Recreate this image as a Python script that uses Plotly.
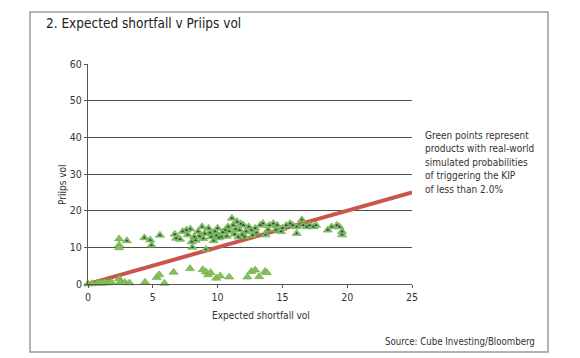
import plotly.graph_objects as go

# Upper cluster (points with dark core)
upper_x = [2.4, 2.4, 2.4, 3.0, 4.35, 4.8, 4.9, 5.55, 6.7, 6.8, 7.1, 7.3, 7.6, 7.7, 7.9, 8.0, 8.05, 8.2, 8.3,
           8.5, 8.6, 8.8, 8.9, 9.0, 9.1, 9.3, 9.4, 9.5, 9.7, 9.8, 9.9, 10.0, 10.1, 10.3, 10.4, 10.6, 10.7,
           10.8, 10.9, 11.1, 11.2, 11.3, 11.4, 11.5, 11.6, 11.7, 11.8, 11.9, 12.0, 12.1, 12.2, 12.4, 12.6,
           12.7, 12.9, 13.0, 13.3, 13.5, 13.7, 13.9, 14.0, 14.3, 14.5, 14.6, 14.9, 15.0, 15.3, 15.6, 15.8,
           16.1, 16.1, 16.5, 16.6, 16.9, 17.1, 17.4, 17.6, 18.5, 18.8, 19.2, 19.4, 19.6, 19.6]
upper_y = [12.3, 10.6, 9.9, 11.8, 12.6, 12.0, 10.6, 13.3, 13.6, 12.5, 12.2, 14.3, 14.7, 13.4, 15.0, 11.5, 10.0, 12.9, 11.9,
           14.3, 13.0, 15.6, 12.4, 13.8, 9.4, 15.2, 14.0, 12.9, 11.8, 14.3, 13.2, 15.2, 12.6, 12.9, 14.1, 14.7, 13.0,
           15.6, 14.4, 17.9, 16.0, 13.6, 15.0, 17.0, 12.8, 14.7, 16.4, 13.4, 16.0, 12.9, 14.3, 15.6, 14.7,
           13.3, 15.2, 14.0, 16.0, 16.5, 13.4, 14.8, 16.0, 16.5, 14.8, 16.0, 14.3, 15.2, 16.0, 16.5, 16.0,
           15.6, 13.8, 17.5, 16.0, 15.6, 16.0, 15.6, 16.0, 14.7, 15.6, 16.0, 15.6, 14.3, 13.4]
upper_core = [0, 0, 0, 1] + [1] * (len(upper_x) - 4)

# Lower group (plain green)
lower_x = [0.0, 0.3, 0.7, 0.9, 1.1, 1.3, 1.55, 1.8, 2.4, 2.5, 2.85, 3.2, 4.4, 5.3, 5.5, 5.9, 6.6,
           7.87, 8.85, 9.1, 9.26, 9.46, 9.9, 10.2, 10.9, 12.3, 12.6, 12.9, 13.2, 13.66, 13.8]
lower_y = [0.0, 0.1, 0.2, 0.3, 0.2, 0.4, 0.3, 0.5, 1.4, 0.6, 0.4, 0.3, 0.5, 1.8, 2.5, 0.2, 3.2,
           4.2, 3.9, 3.3, 2.5, 3.1, 1.6, 2.2, 1.9, 1.9, 3.4, 3.8, 2.0, 3.4, 3.1]

line_x = [0, 25]
line_y = [0, 25]

x_ticks = [0, 5, 10, 15, 20, 25]
y_ticks = [0, 10, 20, 30, 40, 50, 60]

note_lines = ["Green points represent", "products with real-world", "simulated probabilities",
              "of triggering the KIP", "of less than 2.0%"]

GREEN = "#86c05a"
FONT = "DejaVu Sans Condensed, Roboto Condensed, Open Sans, sans-serif"
TXT = "#333333"

# page body has an 8px margin; target plot area on screen: x 88..412, y 64..284
OFF = 8
PW, PH, L, T = 324.0, 220.0, 88.0, 64.0
W, H = 580 - OFF, 358 - OFF


def px(xp):
    return (xp - L) / PW


def py(yp):
    return (T + PH - yp) / PH


fig = go.Figure()
fig.add_trace(go.Scatter(x=line_x, y=line_y, mode="lines",
                         line=dict(color="#c9564d", width=4), hoverinfo="skip"))
fig.add_trace(go.Scatter(x=upper_x + lower_x, y=upper_y + lower_y, mode="markers",
                         marker=dict(symbol="triangle-up", size=8, color=GREEN,
                                     line=dict(color="#6aa843", width=0.6)),
                         cliponaxis=False))
core_x = [x for x, c in zip(upper_x, upper_core) if c]
core_y = [y for y, c in zip(upper_y, upper_core) if c]
fig.add_trace(go.Scatter(x=core_x, y=core_y, mode="markers",
                         marker=dict(symbol="triangle-up", size=3, color="#1f3f73"),
                         cliponaxis=False))

annotations = [
    dict(text="2. Expected shortfall v Priips vol", xref="paper", yref="paper",
         x=px(44), y=py(23), xanchor="left", yanchor="middle", showarrow=False,
         font=dict(family=FONT, size=13.5, color="#222222")),
    dict(text="Priips vol", xref="paper", yref="paper", x=px(62), y=py(185),
         xanchor="center", yanchor="middle", textangle=-90, showarrow=False,
         font=dict(family=FONT, size=10, color=TXT)),
    dict(text="Expected shortfall vol", xref="paper", yref="paper", x=px(261), y=py(315),
         xanchor="center", yanchor="middle", showarrow=False,
         font=dict(family=FONT, size=10, color=TXT)),
    dict(text="Source: Cube Investing/Bloomberg", xref="paper", yref="paper",
         x=px(537), y=py(341), xanchor="right", yanchor="middle",
         showarrow=False, font=dict(family=FONT, size=9.6, color=TXT)),
]
for i, t in enumerate(note_lines):
    annotations.append(dict(text=t, xref="paper", yref="paper", x=px(423), y=py(135 + 13.5 * i),
                            xanchor="left", yanchor="middle", showarrow=False,
                            font=dict(family=FONT, size=10, color=TXT)))

fig.update_layout(
    width=W, height=H,
    margin=dict(l=L - OFF, r=W - (L - OFF) - PW, t=T - OFF, b=H - (T - OFF) - PH),
    paper_bgcolor="white", plot_bgcolor="white",
    showlegend=False,
    font=dict(family=FONT, size=10, color=TXT),
    xaxis=dict(range=[0, 25], tickvals=x_ticks, showgrid=False, zeroline=False,
               showline=True, linecolor="#555555", linewidth=1,
               ticks="outside", ticklen=3, tickcolor="#555555",
               tickfont=dict(size=10.5, color=TXT)),
    yaxis=dict(range=[0, 60], tickvals=y_ticks, showgrid=True, gridcolor="#4d4d4d", gridwidth=1,
               zeroline=False, showline=True, linecolor="#555555", linewidth=1,
               ticks="outside", ticklen=3, tickcolor="#555555",
               tickfont=dict(size=10.5, color=TXT)),
    shapes=[dict(type="rect", xref="paper", yref="paper",
                 x0=px(30), x1=px(548), y0=py(352), y1=py(12),
                 line=dict(color="#9a9a9a", width=1.5))],
    annotations=annotations,
)

fig.write_html("out.html")
